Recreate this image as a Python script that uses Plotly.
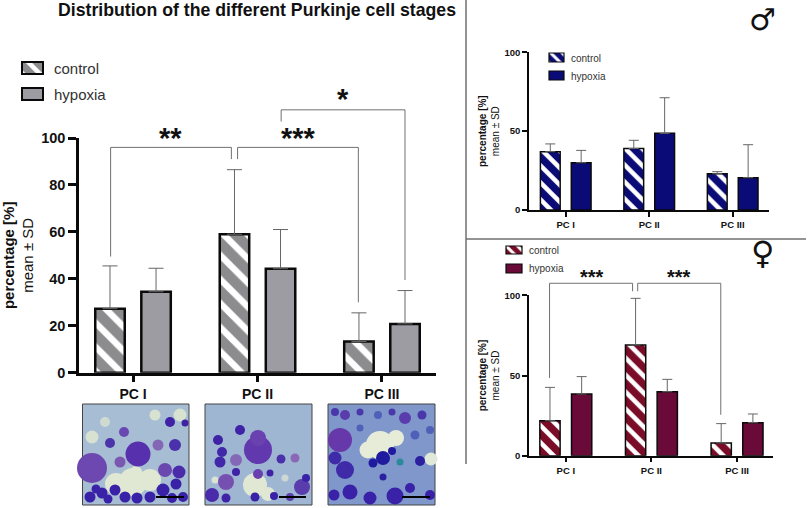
# Distribution of Purkinje cell stages: pooled, male and female panels
import plotly.graph_objects as go

# Data
stages = ['PC I', 'PC II', 'PC III']
stagePos = [0, 1, 2]

mainControl = [27.3, 59, 13.3]
mainControlSd = [18.2, 27.5, 12.2]
mainHypoxia = [34.5, 44.3, 20.8]
mainHypoxiaSd = [10, 16.7, 14.2]

maleControl = [37, 39, 23]
maleControlSd = [4.9, 5.2, 1.3]
maleHypoxia = [30, 48.6, 20.5]
maleHypoxiaSd = [7.8, 22.6, 20.9]

femaleControl = [21.8, 69, 7.9]
femaleControlSd = [20.8, 29.1, 12.1]
femaleHypoxia = [38.5, 39.9, 20.6]
femaleHypoxiaSd = [10.8, 7.7, 5.4]

mainTicks = [0, 20, 40, 60, 80, 100]
sideTicks = [0, 50, 100]

# Significance brackets, in axis units
mainBrackets = [
    ([-0.18, -0.18, 0.79, 0.79], [49.5, 96, 96, 91]),
    ([0.84, 0.84, 1.81, 1.81], [91, 96, 96, 30]),
    ([1.19, 1.19, 2.185, 2.185], [107, 112, 112, 39.5]),
]
femaleBrackets = [
    ([-0.19, -0.19, 0.78, 0.78], [48.5, 107.5, 107.5, 102.5]),
    ([0.84, 0.84, 1.81, 1.81], [102.5, 107.5, 107.5, 25.5]),
]

# Micrograph blobs: x, y, size, colour
photoBoxes = [(82.5, 189), (205, 312), (328, 435)]
photoColors = ['#a6bdd3', '#9fb6d2', '#7f97cb']
scaleBars = [(156, 184), (279, 306), (402, 430)]
blobs = [
    # PC I
    (133, 482, 28, '#e0e8d4'), (116, 484, 22, '#e0e8d4'), (150, 480, 22, '#e0e8d4'), (92, 437, 13, '#d8e2d0'),
    (180, 415, 13, '#d8e2d0'), (155, 415, 11, '#d8e2d0'), (105, 422, 10, '#cfdad0'), (136, 472, 12, '#e0e8d4'),
    (92, 468, 30, '#6c48b0'), (138, 454, 25, '#5630ad'), (124, 432, 10, '#6a48b2'), (110, 443, 10, '#4b33aa'),
    (170, 422, 10, '#3f22a5'), (158, 445, 11, '#8366b5'), (175, 445, 12, '#4a30aa'), (120, 462, 11, '#7a58b2'),
    (165, 470, 14, '#6a48b0'), (179, 472, 13, '#4a2cab'), (185, 423, 7, '#3f22a5'),
    (90, 497, 11, '#3a22a8'), (102, 493, 11, '#3a22a8'), (115, 490, 11, '#3a22a8'), (125, 497, 11, '#3a22a8'),
    (137, 498, 11, '#3a22a8'), (150, 497, 11, '#3a22a8'), (163, 490, 13, '#3a22a8'), (176, 484, 11, '#3a22a8'),
    (183, 497, 10, '#3a22a8'), (172, 498, 10, '#3a22a8'), (96, 489, 9, '#3a22a8'), (108, 499, 9, '#3a22a8'),
    # PC II
    (255, 485, 24, '#e0e8d4'), (268, 494, 14, '#e0e8d4'), (215, 480, 7, '#dbe4d2'), (285, 478, 7, '#cdd8d4'),
    (258, 450, 28, '#6238ae'), (258, 438, 16, '#6a42b0'), (240, 430, 10, '#3f22a5'), (218, 440, 10, '#3f22a5'),
    (222, 452, 10, '#4028a8'), (220, 462, 11, '#4028a8'), (236, 460, 12, '#8468b8'), (226, 482, 16, '#7650b0'),
    (236, 472, 8, '#3f22a5'), (281, 459, 9, '#4a30aa'), (295, 458, 9, '#8a68b6'), (258, 474, 10, '#6a40ae'),
    (270, 473, 7, '#3f22a5'), (302, 487, 16, '#5a3cac'), (212, 495, 14, '#4a2cab'), (226, 498, 9, '#3f22a5'),
    (255, 497, 9, '#3a22a8'), (274, 496, 8, '#3a22a8'), (290, 497, 8, '#5a40ae'), (306, 478, 8, '#3a22a8'),
    # PC III
    (380, 445, 28, '#e6ecd8'), (368, 450, 17, '#e6ecd8'), (396, 438, 16, '#e6ecd8'), (431, 459, 13, '#e0e8d8'),
    (340, 440, 24, '#6638aa'), (345, 470, 18, '#3f2aa8'), (335, 458, 13, '#3f2aa8'), (350, 492, 15, '#3a22a8'),
    (370, 498, 13, '#3a22a8'), (395, 496, 17, '#3a22a8'), (410, 488, 10, '#3a22a8'), (334, 495, 11, '#3a22a8'),
    (420, 461, 10, '#2a20a0'), (400, 462, 7, '#2a8a9a'), (383, 477, 7, '#2a20a0'), (430, 495, 10, '#3a22a8'),
    (383, 458, 14, '#1f1a9e'), (373, 463, 9, '#1f1a9e'), (392, 451, 8, '#1f1a9e'),
    (345, 415, 10, '#5a3cac'), (405, 418, 12, '#5a3cac'), (360, 412, 7, '#4a38aa'), (335, 412, 8, '#4a38aa'),
    (378, 415, 8, '#5060b8'), (392, 412, 7, '#4a38aa'), (422, 415, 9, '#4a38aa'), (430, 430, 8, '#5060b8'),
    (415, 435, 9, '#5060b8'), (360, 428, 7, '#5060b8'),
]

colours = {
    'main': ('#8c8c8e', '#9c9ca2'),
    'male': ('#0b0b78', '#0b0b78'),
    'female': ('#7a0c28', '#690a38'),
}

W, H = 808, 508
fig = go.Figure()


def stripes(colour, size):
    return dict(shape='\\', fgcolor='white', fgopacity=1, bgcolor=colour, size=size, solidity=0.38)


def addBars(name, control, controlSd, hypoxia, hypoxiaSd, xaxis, yaxis, lineWidth, capWidth, patternSize):
    fill = colours[name]
    for label, vals, sd, colour, pattern in [
        ('control', control, controlSd, fill[0], stripes(fill[0], patternSize)),
        ('hypoxia', hypoxia, hypoxiaSd, fill[1], dict(shape='')),
    ]:
        fig.add_trace(go.Bar(
            x=stagePos, y=vals, name=label, xaxis=xaxis, yaxis=yaxis, showlegend=False,
            marker=dict(color=colour, pattern=pattern, line=dict(color='#0a0a0a', width=lineWidth)),
            error_y=dict(type='data', symmetric=False, array=sd, arrayminus=[0, 0, 0],
                         color='#666666', thickness=1, width=capWidth),
            cliponaxis=False,
        ))


def addBrackets(brackets, xaxis, yaxis):
    for bx, by in brackets:
        fig.add_trace(go.Scatter(x=bx, y=by, mode='lines', xaxis=xaxis, yaxis=yaxis, showlegend=False,
                                 line=dict(color='#707070', width=1), cliponaxis=False, hoverinfo='skip'))


addBars('main', mainControl, mainControlSd, mainHypoxia, mainHypoxiaSd, 'x', 'y', 2.5, 7.5, 17)
addBars('male', maleControl, maleControlSd, maleHypoxia, maleHypoxiaSd, 'x2', 'y2', 1.5, 5, 12)
addBars('female', femaleControl, femaleControlSd, femaleHypoxia, femaleHypoxiaSd, 'x3', 'y3', 1.5, 5, 12)
addBrackets(mainBrackets, 'x5', 'y5')
addBrackets(femaleBrackets, 'x6', 'y6')

# Overlay in page pixels for the micrographs and the hand placed legends
shapes = []
for (x0, x1), c in zip(photoBoxes, photoColors):
    shapes.append(dict(type='rect', xref='x4', yref='y4', x0=x0, x1=x1, y0=404, y1=505, fillcolor=c,
                       line=dict(color='#444444', width=1), layer='below'))
fig.add_trace(go.Scatter(
    x=[b[0] for b in blobs], y=[b[1] for b in blobs], mode='markers', xaxis='x4', yaxis='y4', showlegend=False,
    marker=dict(size=[b[2] for b in blobs], color=[b[3] for b in blobs], opacity=1, line=dict(width=0)),
    hoverinfo='skip',
))
for x0, x1 in scaleBars:
    shapes.append(dict(type='line', xref='x4', yref='y4', x0=x0, x1=x1, y0=497, y1=497,
                       line=dict(color='black', width=2)))
shapes.append(dict(type='line', xref='x4', yref='y4', x0=466, x1=466, y0=0, y1=464, line=dict(color='#707070', width=1.5)))
shapes.append(dict(type='line', xref='x4', yref='y4', x0=466, x1=806, y0=239, y1=239, line=dict(color='#707070', width=1.5)))


def note(text, x, y, size, bold=False, family='Liberation Sans', anchor='center', colour='#111111'):
    return dict(text=f'<b>{text}</b>' if bold else text, x=x, y=y, xref='x4', yref='y4', showarrow=False,
                xanchor=anchor, yanchor='middle', font=dict(family=family, size=size, color=colour))


annotations = [
    note('Distribution of the different Purkinje cell stages', 56, 10, 17.7, bold=True, anchor='left'),
    note('**', 170, 137.5, 29, bold=True),
    note('***', 298, 137.5, 29, bold=True),
    note('*', 343, 98.5, 29, bold=True),
    note('***', 592, 276.5, 20, bold=True),
    note('***', 679, 276.5, 20, bold=True),
    note('♂', 762, 19, 30, family='DejaVu Sans'),
    note('♀', 762, 253, 32, family='DejaVu Sans'),
]


# Legend swatch: left, right, top, bottom, fill group, striped
def addSwatch(x0, x1, y0, y1, colour, striped, size, lineWidth):
    fig.add_trace(go.Bar(
        x=[x0], y=[y0 - y1], base=[y1], width=[x1 - x0], offset=0, xaxis='x4', yaxis='y4', showlegend=False,
        marker=dict(color=colour, pattern=stripes(colour, size) if striped else dict(shape=''),
                    line=dict(color='#0a0a0a', width=lineWidth)),
        hoverinfo='skip',
    ))


addSwatch(22, 43, 62, 74, colours['main'][0], True, 12, 2)
addSwatch(22, 43, 88, 100, colours['main'][1], False, 12, 2)
addSwatch(549, 564, 53, 62, colours['male'][0], True, 8, 1.2)
addSwatch(549, 564, 71, 80, colours['male'][1], False, 8, 1.2)
addSwatch(506, 522, 246, 254, colours['female'][0], True, 8, 1.2)
addSwatch(506, 522, 264, 273, colours['female'][1], False, 8, 1.2)
annotations += [
    note('control', 52, 68, 15, anchor='left', colour='#333333'),
    note('hypoxia', 52, 94.5, 15, anchor='left', colour='#333333'),
    note('control', 569, 58, 10, anchor='left', colour='#333333'),
    note('hypoxia', 569, 76, 10, anchor='left', colour='#333333'),
    note('control', 527, 250, 10, anchor='left', colour='#333333'),
    note('hypoxia', 527, 268, 10, anchor='left', colour='#333333'),
]


def bottomAxis(domain, xRange, size, lineWidth, tickLen):
    return dict(domain=domain, range=xRange, tickvals=stagePos, ticktext=[f'<b>{s}</b>' for s in stages],
                showgrid=False, zeroline=False, showline=True, linecolor='#0a0a0a', linewidth=lineWidth,
                ticks='outside', ticklen=tickLen, tickwidth=lineWidth, tickcolor='#0a0a0a',
                tickfont=dict(family='Liberation Sans', size=size, color='#111111'))


def leftAxis(domain, ticks, size, lineWidth, tickLen, titleSize, standoff):
    return dict(domain=domain, range=[0, 100], tickvals=ticks, ticktext=[f'<b>{t}</b>' for t in ticks],
                showgrid=False, zeroline=False, showline=True, linecolor='#0a0a0a', linewidth=lineWidth,
                ticks='outside', ticklen=tickLen, tickwidth=lineWidth, tickcolor='#0a0a0a',
                tickfont=dict(family='Liberation Sans', size=size, color='#111111'),
                title=dict(text='<b>percentage [%]</b><br>mean ± SD', standoff=standoff,
                           font=dict(family='Liberation Sans', size=titleSize, color='#111111')))


# Invisible twin of a value axis, same units per pixel but reaching higher so brackets can leave the plot
def twinAxis(bottomPx, topPx, reachPx):
    return dict(domain=[1 - bottomPx / H, 1 - reachPx / H], range=[0, 100 * (bottomPx - reachPx) / (bottomPx - topPx)],
                visible=False, fixedrange=True)


xMain, xMale, xFemale = [79 / W, 436 / W], [529 / W, 769 / W], [529 / W, 773 / W]
rangeMain, rangeMale, rangeFemale = [-0.434, 2.434], [-0.44, 2.435], [-0.43, 2.42]

fig.update_layout(
    width=W, height=H, margin=dict(l=0, r=0, t=0, b=0, autoexpand=False),
    paper_bgcolor='white', plot_bgcolor='rgba(0,0,0,0)',
    barmode='group',
    bargap=0.26, bargroupgap=0.36,
    shapes=shapes, annotations=annotations,
    xaxis=bottomAxis(xMain, rangeMain, 14, 2.5, 7),
    yaxis=leftAxis([1 - 372.7 / H, 1 - 138 / H], mainTicks, 14.5, 2.5, 8, 15, 5),
    xaxis2=bottomAxis(xMale, rangeMale, 9.5, 1.5, 5),
    yaxis2=leftAxis([1 - 210 / H, 1 - 52.3 / H], sideTicks, 9.5, 1.5, 5, 10, 3),
    xaxis3=bottomAxis(xFemale, rangeFemale, 9.5, 1.5, 5),
    yaxis3=leftAxis([1 - 455.7 / H, 1 - 295.3 / H], sideTicks, 9.5, 1.5, 5, 10, 3),
    xaxis4=dict(domain=[0, 1], range=[0, W], visible=False, fixedrange=True),
    yaxis4=dict(domain=[0, 1], range=[H, 0], visible=False, fixedrange=True),
    xaxis5=dict(domain=xMain, range=rangeMain, visible=False, fixedrange=True),
    yaxis5=twinAxis(372.7, 138, 91),
    xaxis6=dict(domain=xFemale, range=rangeFemale, visible=False, fixedrange=True),
    yaxis6=twinAxis(455.7, 295.3, 271),
)
for i in ['', '2', '3', '4', '5', '6']:
    fig.update_layout({f'xaxis{i}_anchor': f'y{i}', f'yaxis{i}_anchor': f'x{i}'})

fig.write_html("out.html", config={'displayModeBar': False}, post_script="document.body.style.margin='0';")
